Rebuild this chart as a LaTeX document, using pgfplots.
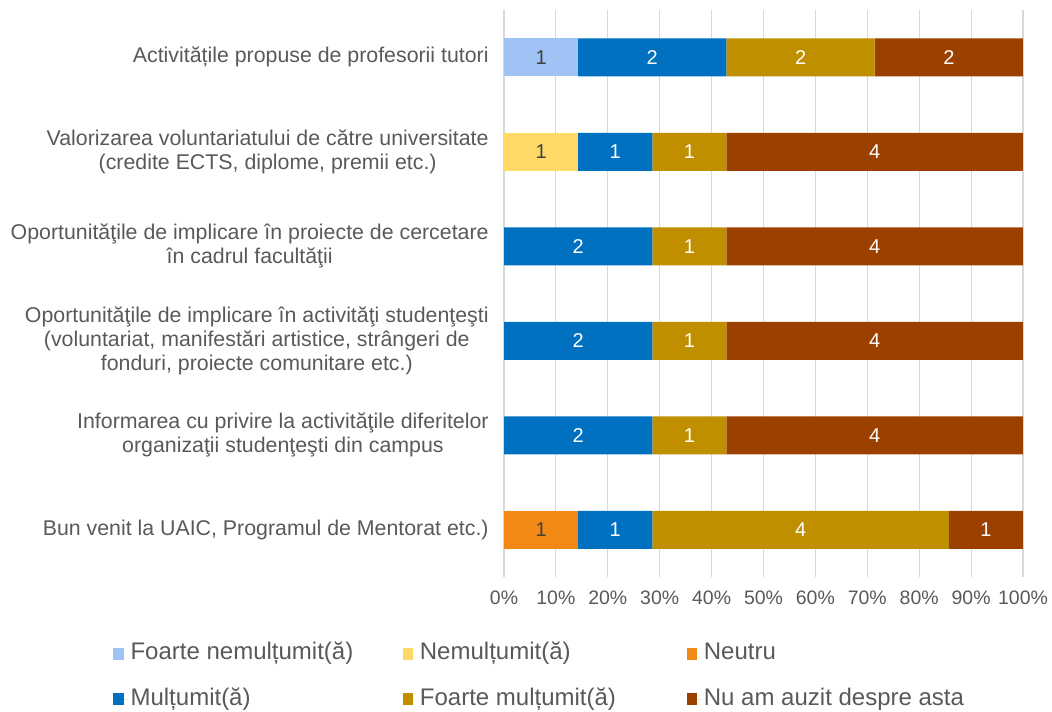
\documentclass[border=0pt]{standalone}
\usepackage{pgfplots}
\usepackage{pgfplotstable}
\pgfplotsset{compat=1.18}
\usepackage{fontspec}
\setmainfont{Liberation Sans}

\definecolor{cFN}{RGB}{159,195,245}
\definecolor{cNem}{RGB}{255,217,102}
\definecolor{cNeu}{RGB}{241,137,20}
\definecolor{cM}{RGB}{0,112,192}
\definecolor{cFM}{RGB}{191,143,0}
\definecolor{cNu}{RGB}{156,64,0}
\definecolor{txt}{RGB}{89,89,89}
\definecolor{dark}{RGB}{64,64,64}

% answers per item (7 respondents), cat 0 = bottom bar
\pgfplotstableread{
cat FN Nem Neu M FM Nu
0 0 0 1 1 4 1
1 0 0 0 2 1 4
2 0 0 0 2 1 4
3 0 0 0 2 1 4
4 0 1 0 1 1 4
5 1 0 0 2 2 2
}\data

\pgfplotsset{
  seg/.style 2 args={
    fill=#1, draw=none,
    visualization depends on={\thisrow{#2}\as\cnt},
    nodes near coords={\ifdim\cnt pt>0pt \pgfmathprintnumber[assume math mode=true,int trunc]{\cnt}\fi},
  },
}

\begin{document}
\begin{tikzpicture}
\useasboundingbox (0,0) rectangle (789pt,533.25pt);
\begin{axis}[
    at={(378pt,100.5pt)}, anchor=south west,
    scale only axis,
    width=389.25pt, height=425.25pt,
    xbar stacked, bar width=28.5pt,
    xmin=0, xmax=100, enlarge x limits=false,
    ymin=-0.5, ymax=5.5,
    xtick={0,10,...,100},
    xticklabels={0\%,10\%,20\%,30\%,40\%,50\%,60\%,70\%,80\%,90\%,100\%},
    ytick={0,...,5},
    yticklabels={
      {Bun venit la UAIC, Programul de Mentorat etc.)},
      {Informarea cu privire la activităţile diferitelor\\organizaţii studenţeşti din campus},
      {Oportunităţile de implicare în activităţi studenţeşti\\(voluntariat, manifestări artistice, strângeri de\\fonduri, proiecte comunitare etc.)},
      {Oportunităţile de implicare în proiecte de cercetare\\în cadrul facultăţii},
      {Valorizarea voluntariatului de către universitate\\(credite ECTS, diplome, premii etc.)},
      {Activitățile propuse de profesorii tutori}},
    major tick length=0pt,
    axis line style={draw=none},
    xmajorgrids, grid style={draw=black!15, line width=0.8pt},
    xticklabel style={font=\fontsize{14.6}{17}\selectfont, text=txt, yshift=-7pt},
    yticklabel style={font=\fontsize{16}{18}\selectfont, text=txt, align=center, xshift=-8pt},
    every node near coord/.append style={
      font=\fontsize{15}{17}\selectfont, text=white, anchor=center},
    legend columns=3,
    legend cell align=left,
    legend image code/.code={
      \fill[#1] (0pt,-4.6pt) rectangle (8pt,4.2pt);
      \path (0pt,0pt) -- (11pt,0pt);},
    legend style={
      at={(-0.7534,-0.116)}, anchor=north west,
      draw=none, fill=none, inner sep=0pt,
      font=\fontsize{18}{20}\selectfont, text=txt,
      row sep=18pt,
      nodes={text height=12.5pt, text depth=3.5pt, inner ysep=0pt},
    },
]
\addplot[seg={cFN}{FN}, every node near coord/.append style={text=dark}]
  table[y=cat, x expr=\thisrow{FN}*100/7] {\data};
\addlegendentry{\makebox[202pt][l]{Foarte nemulțumit(ă)}}
\addplot[seg={cNem}{Nem}, every node near coord/.append style={text=dark}]
  table[y=cat, x expr=\thisrow{Nem}*100/7] {\data};
\addlegendentry{\makebox[198pt][l]{Nemulțumit(ă)}}
\addplot[seg={cNeu}{Neu}, every node near coord/.append style={text=dark}]
  table[y=cat, x expr=\thisrow{Neu}*100/7] {\data};
\addlegendentry{Neutru}
\addplot[seg={cM}{M}]
  table[y=cat, x expr=\thisrow{M}*100/7] {\data};
\addlegendentry{\makebox[202pt][l]{Mulțumit(ă)}}
\addplot[seg={cFM}{FM}]
  table[y=cat, x expr=\thisrow{FM}*100/7] {\data};
\addlegendentry{\makebox[198pt][l]{Foarte mulțumit(ă)}}
\addplot[seg={cNu}{Nu}]
  table[y=cat, x expr=\thisrow{Nu}*100/7] {\data};
\addlegendentry{Nu am auzit despre asta}
\end{axis}
\end{tikzpicture}
\end{document}
